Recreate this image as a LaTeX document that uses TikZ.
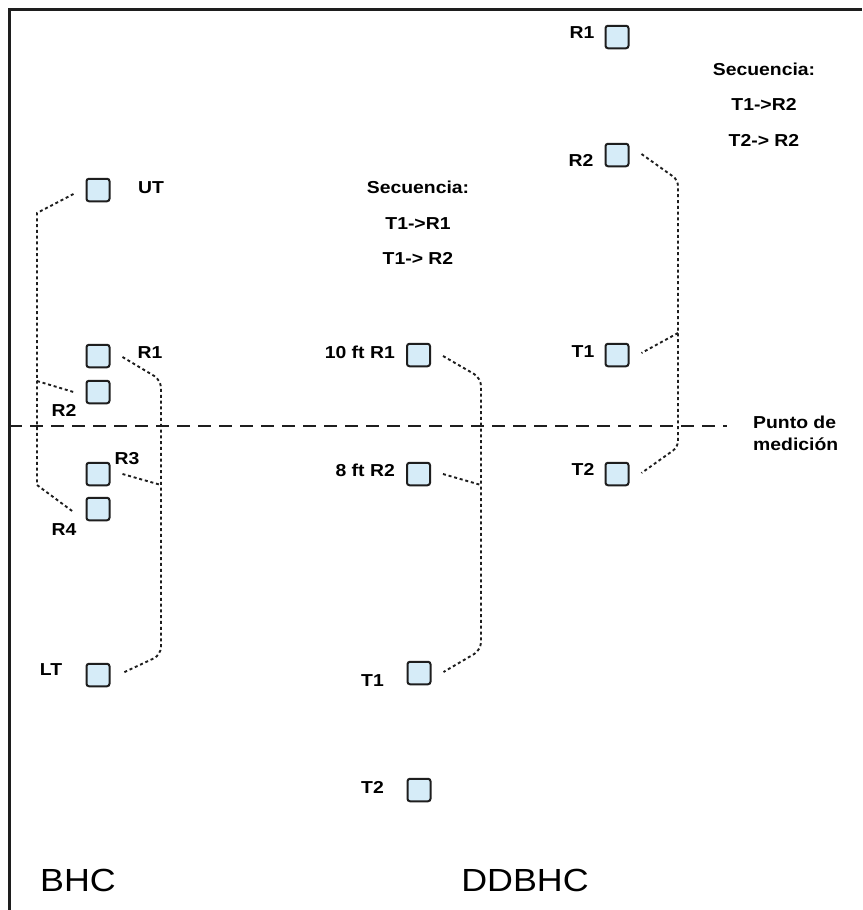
\documentclass[tikz,border=0pt]{standalone}
\usepackage{fontspec}
\setmainfont{Liberation Sans}
\newfontfamily\labfont[FakeStretch=1.12]{Liberation Sans}
\usetikzlibrary{calc}
\definecolor{boxfill}{HTML}{D6ECF8}
\definecolor{lineclr}{HTML}{1E1E1E}
\tikzset{
  sq/.style={draw=lineclr, fill=boxfill, line width=2pt, rounded corners=2.5pt,
    minimum width=23pt, minimum height=22.5pt, inner sep=0pt},
  lbl/.style={font=\labfont\bfseries\fontsize{17.3}{19}\selectfont, inner sep=0pt,
    text height=12.4pt, text depth=0pt},
  big/.style={font=\labfont\fontsize{32}{36}\selectfont, inner sep=0pt,
    text height=23pt, text depth=0pt},
  conn/.style={draw=lineclr, line width=1.9pt, dash pattern=on 3pt off 2.8pt},
  meas/.style={draw=lineclr, line width=2.8pt, dash pattern=on 13pt off 8pt}
}
\begin{document}
\begin{tikzpicture}[x=1pt,y=-1pt]
\useasboundingbox (0,0) rectangle (862,910);
\fill[white] (0,0) rectangle (862,910);
% frame
\draw[line width=3pt, lineclr] (9,910) -- (9,9) -- (862,9);

% measurement line
\coordinate (mA) at (9,426);
\coordinate (mB) at (727,426);
\draw[meas] (mA) -- (mB);
\node[lbl, anchor=west, align=left] (punto) at (753,422) {Punto de};
\node[lbl, anchor=west, align=left] (medicion) at (753,444) {medición};

% ---------------- BHC (left)
\node[sq] (ut) at (98,190) {};
\node[sq] (lr1) at (98,356) {};
\node[sq] (lr2) at (98,392) {};
\node[sq] (lr3) at (98,474) {};
\node[sq] (lr4) at (98,509) {};
\node[sq] (lt) at (98,675) {};
\node[lbl] (utl) at (151,187) {UT};
\node[lbl] (lr1l) at (150,352) {R1};
\node[lbl] (lr2l) at (64,410) {R2};
\node[lbl] (lr3l) at (127,458) {R3};
\node[lbl] (lr4l) at (64,529) {R4};
\node[lbl] (ltl) at (51,669) {LT};

\coordinate (la) at (37,213);
\coordinate (lj) at (37,381);
\coordinate (lb) at (37,485);
\draw[conn] ($(ut.west)+(-12,4)$) -- (la) -- (lb) -- ($(lr4.west)+(-12,3)$);
\draw[conn] (lj) -- ($(lr2.west)+(-12,0)$);

\coordinate (ra) at (161,380);
\coordinate (rj) at (161,485);
\coordinate (rb) at (161,655);
\draw[conn, rounded corners=8pt] ($(lr1.east)+(12,1)$) -- (ra) -- (rb) -- ($(lt.east)+(12,-2)$);
\draw[conn] ($(lr3.east)+(12,0)$) -- (rj);

\node[big] (bhc) at (78,880) {BHC};

% ---------------- DDBHC (middle)
\node[sq] (mr1) at (418.5,355) {};
\node[sq] (mr2) at (418.5,474) {};
\node[sq] (mt1) at (419,673) {};
\node[sq] (mt2) at (419,790) {};
\node[lbl, anchor=east] (mr1l) at (395,352) {10 ft R1};
\node[lbl, anchor=east] (mr2l) at (395,470) {8 ft R2};
\node[lbl] (mt1l) at (372.5,680) {T1};
\node[lbl] (mt2l) at (372.5,787) {T2};

\coordinate (ma) at (481,378);
\coordinate (mj) at (481,485);
\coordinate (mb) at (481,650);
\draw[conn, rounded corners=8pt] ($(mr1.east)+(12,1)$) -- (ma) -- (mb) -- ($(mt1.east)+(12,-1)$);
\draw[conn] ($(mr2.east)+(12,0)$) -- (mj);

\node[lbl] (sq1) at (418,187) {Secuencia:};
\node[lbl] (sq2) at (418,223) {T1->R1};
\node[lbl] (sq3) at (418,258) {T1-> R2};

\node[big] (ddbhc) at (525,880) {DDBHC};

% ---------------- right column
\node[sq] (rr1) at (617,37) {};
\node[sq] (rr2) at (617,155) {};
\node[sq] (rt1) at (617,355) {};
\node[sq] (rt2) at (617,474) {};
\node[lbl] (rr1l) at (582,32) {R1};
\node[lbl] (rr2l) at (581,160) {R2};
\node[lbl] (rt1l) at (583,351) {T1};
\node[lbl] (rt2l) at (583,469) {T2};

\coordinate (qa) at (678,180);
\coordinate (qj) at (678,333);
\coordinate (qb) at (678,447);
\draw[conn, rounded corners=6pt] ($(rr2.east)+(12,-1)$) -- (qa) -- (qb) -- ($(rt2.east)+(12,-1)$);
\draw[conn] (qj) -- ($(rt1.east)+(12,-2)$);

\node[lbl] (rs1) at (764,69) {Secuencia:};
\node[lbl] (rs2) at (764,104) {T1->R2};
\node[lbl] (rs3) at (764,140) {T2-> R2};
\end{tikzpicture}
\end{document}
